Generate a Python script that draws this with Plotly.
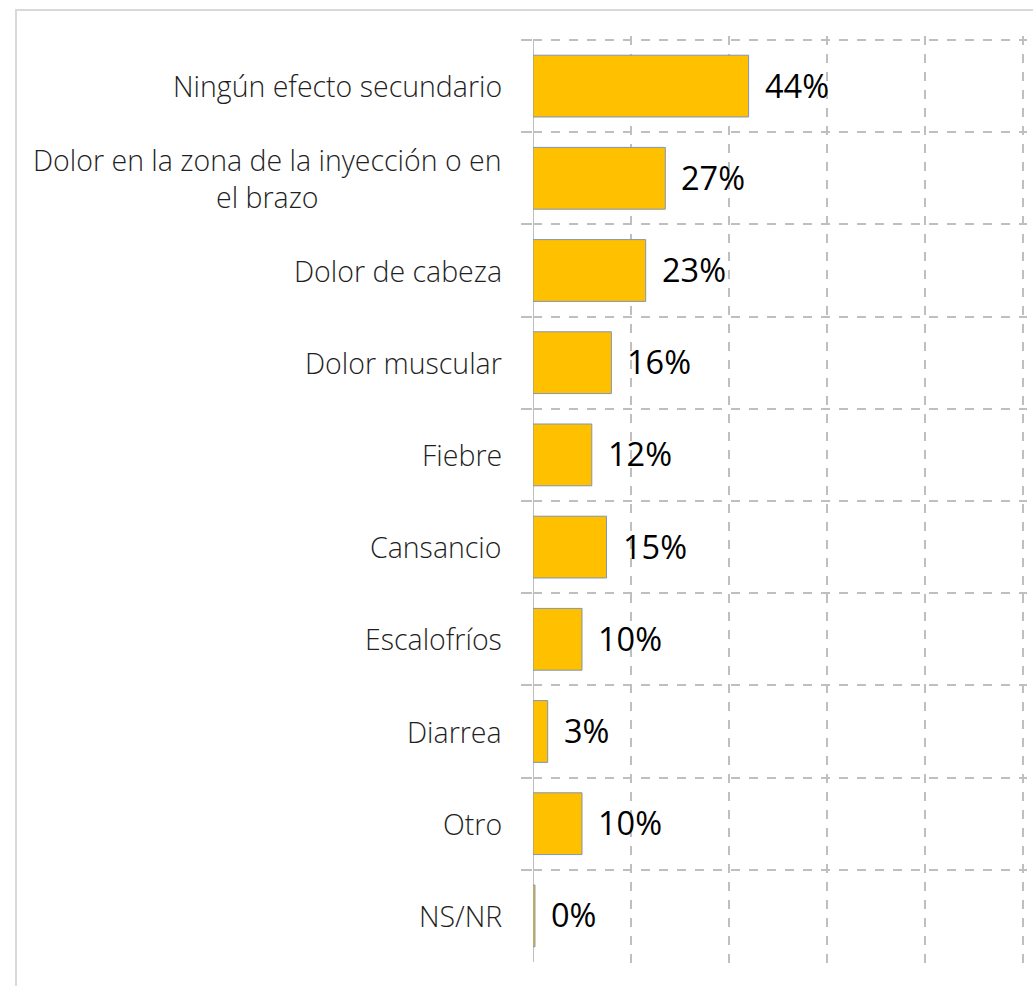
import plotly.graph_objects as go

# Side effects reported after vaccination (share of respondents, %)
categories = [
    "Ningún efecto secundario",
    "Dolor en la zona de la inyección o en<br>el brazo",
    "Dolor de cabeza",
    "Dolor muscular",
    "Fiebre",
    "Cansancio",
    "Escalofríos",
    "Diarrea",
    "Otro",
    "NS/NR",
]
values = [44, 27, 23, 16, 12, 15, 10, 3, 10, 0.4]
value_labels = ["44%", "27%", "23%", "16%", "12%", "15%", "10%", "3%", "10%", "0%"]
x_ticks = [0, 20, 40, 60, 80, 100]

BAR_FILL = "#FFC000"
BAR_EDGE = "#7F96B8"
GRID = "#BFBFBF"
FONT = "Open Sans"

fig = go.Figure(
    go.Bar(
        x=values,
        y=categories,
        orientation="h",
        marker=dict(color=BAR_FILL, line=dict(color=BAR_EDGE, width=1)),
        hoverinfo="skip",
    )
)

# Category names, centred line by line and right-aligned against the axis
for cat in categories:
    fig.add_annotation(
        x=0, y=cat, xref="x", yref="y",
        text=cat, showarrow=False,
        xanchor="right", yanchor="middle", align="center",
        xshift=-29,
        font=dict(family=FONT, size=28.5, color="#1f1f1f", weight=300),
    )

# Value labels just past each bar end
for cat, v, lab in zip(categories, values, value_labels):
    fig.add_annotation(
        x=v, y=cat, xref="x", yref="y",
        text=lab, showarrow=False,
        xanchor="left", yanchor="middle",
        xshift=14, yshift=1,
        font=dict(family=FONT, size=32.5, color="#000000"),
    )

# Plot box: 490 px for 0-100 %, 92.2 px per category row, with a little slack
# so the outermost gridlines are not trimmed at the edges
PLOT_L, PLOT_R, PLOT_T, PLOT_B = 533, 6, 36, 20
plot_w = 1033 - PLOT_L - PLOT_R
plot_h = 986 - PLOT_T - PLOT_B
x_max = 100 * plot_w / 490
row_px = 922 / 10
y_half = plot_h / row_px / 2

# Outer chart frame
fig.add_shape(
    type="rect", xref="paper", yref="paper",
    x0=(16 - PLOT_L) / plot_w, x1=(1060 - PLOT_L) / plot_w,
    y0=-0.1, y1=1 + (PLOT_T - 10) / plot_h,
    line=dict(color="#D9D9D9", width=2), fillcolor="rgba(0,0,0,0)",
    layer="below",
)

# Solid value axis along the left edge of the rows
fig.add_shape(
    type="line", xref="x", yref="y",
    x0=0, x1=0, y0=-0.5, y1=9.5,
    line=dict(color=GRID, width=2),
    layer="below",
)

fig.update_layout(
    width=1033,
    height=986,
    margin=dict(l=PLOT_L, r=PLOT_R, t=PLOT_T, b=PLOT_B),
    paper_bgcolor="white",
    plot_bgcolor="white",
    bargap=0.33,
    showlegend=False,
    xaxis=dict(
        range=[0, x_max],
        tickvals=x_ticks,
        showticklabels=False,
        showgrid=True,
        gridcolor=GRID,
        griddash="dash",
        gridwidth=2,
        zeroline=False,
        showline=False,
        fixedrange=True,
    ),
    yaxis=dict(
        range=[4.5 + y_half, 4.5 - y_half],
        showticklabels=False,
        tickson="boundaries",
        ticks="outside",
        ticklen=11,
        tickcolor=GRID,
        tickwidth=2,
        showgrid=True,
        gridcolor=GRID,
        griddash="dash",
        gridwidth=2,
        showline=False,
        zeroline=False,
        fixedrange=True,
    ),
)

fig.write_html("out.html")
